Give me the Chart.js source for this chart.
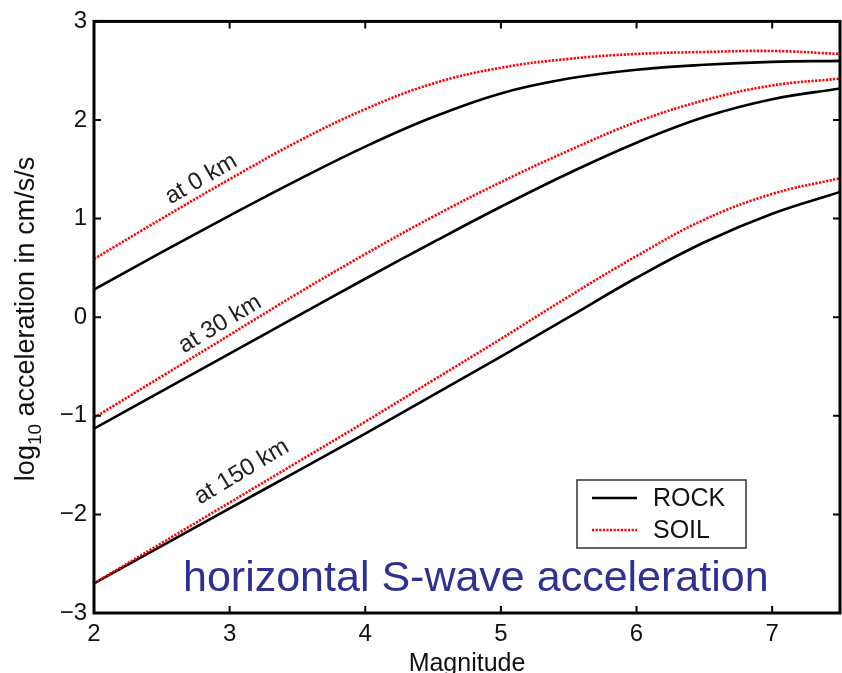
<!DOCTYPE html>
<html>
<head>
<meta charset="utf-8">
<script src="https://cdn.jsdelivr.net/npm/chart.js@4/dist/chart.umd.min.js"></script>
<style>
  body { margin: 0; background: #fff; }
  canvas { display: block; }
</style>
</head>
<body>
<canvas id="accelChart" width="842" height="673"></canvas>
<script>
// magnitudes on the x axis
const magnitudes = [2, 2.5, 3, 3.5, 4, 4.5, 5, 5.5, 6, 6.5, 7, 7.5];

// log10 acceleration (cm/s/s)
const rock0   = [0.28, 0.66, 1.03, 1.39, 1.73, 2.03, 2.27, 2.42, 2.51, 2.56, 2.59, 2.60];
const soil0   = [0.59, 1.00, 1.40, 1.78, 2.11, 2.37, 2.53, 2.62, 2.67, 2.69, 2.70, 2.67];
const rock30  = [-1.13, -0.75, -0.37, 0.01, 0.39, 0.76, 1.12, 1.46, 1.77, 2.03, 2.21, 2.32];
const soil30  = [-1.02, -0.60, -0.18, 0.24, 0.64, 1.02, 1.37, 1.69, 1.98, 2.20, 2.35, 2.42];
const rock150 = [-2.70, -2.32, -1.94, -1.56, -1.18, -0.79, -0.40, 0.00, 0.40, 0.76, 1.05, 1.27];
const soil150 = [-2.70, -2.29, -1.88, -1.47, -1.06, -0.64, -0.22, 0.21, 0.62, 0.99, 1.25, 1.41];

const xTicks = [2, 3, 4, 5, 6, 7];
const yTicks = [-3, -2, -1, 0, 1, 2, 3];

// distance labels: text, anchor (magnitude, log accel), angle in degrees
const distLabels = [
    { text: 'at 0 km', x: 2.79, y: 1.40, angle: 30 },
    { text: 'at 30 km', x: 2.93, y: -0.07, angle: 31 },
    { text: 'at 150 km', x: 3.09, y: -1.57, angle: 31 }
];

const FONT = "'Liberation Sans', Arial, Helvetica, sans-serif";
const ROCK_STYLE = { borderColor: '#000000', borderWidth: 2.6, borderDash: [] };
const SOIL_STYLE = { borderColor: '#ff0000', borderWidth: 2.6, borderDash: [2.2, 1.4] };

function pts(arr) {
    return magnitudes.map((m, i) => ({ x: m, y: arr[i] }));
}

function line(label, arr, style, order) {
    return {
        label,
        data: pts(arr),
        borderColor: style.borderColor,
        borderWidth: style.borderWidth,
        borderDash: style.borderDash,
        pointRadius: 0,
        tension: 0.4,
        fill: false,
        order
    };
}

function fmt(v) {
    return v < 0 ? '\u2212' + Math.abs(v) : String(v);
}

const decorations = {
    id: 'decorations',
    afterDatasetsDraw(chart) {
        const { ctx, chartArea: a, scales: { x, y } } = chart;
        ctx.save();

        // box
        ctx.strokeStyle = '#000';
        ctx.lineWidth = 3;
        ctx.strokeRect(a.left, a.top, a.right - a.left, a.bottom - a.top);

        // inward ticks
        ctx.lineWidth = 2;
        ctx.beginPath();
        xTicks.forEach(v => {
            const px = x.getPixelForValue(v);
            ctx.moveTo(px, a.bottom); ctx.lineTo(px, a.bottom - 7);
            ctx.moveTo(px, a.top); ctx.lineTo(px, a.top + 7);
        });
        yTicks.forEach(v => {
            const py = y.getPixelForValue(v);
            ctx.moveTo(a.left, py); ctx.lineTo(a.left + 7, py);
            ctx.moveTo(a.right, py); ctx.lineTo(a.right - 7, py);
        });
        ctx.stroke();

        // distance labels along the curves
        ctx.fillStyle = '#222';
        ctx.font = '24px ' + FONT;
        ctx.textAlign = 'center';
        ctx.textBaseline = 'middle';
        distLabels.forEach(l => {
            ctx.save();
            ctx.translate(x.getPixelForValue(l.x), y.getPixelForValue(l.y));
            ctx.rotate(-l.angle * Math.PI / 180);
            ctx.fillText(l.text, 0, 0);
            ctx.restore();
        });

        // legend
        const lx = 577, ly = 480, lw = 169, lh = 68;
        ctx.fillStyle = '#fff';
        ctx.fillRect(lx, ly, lw, lh);
        ctx.strokeStyle = '#333';
        ctx.lineWidth = 1.5;
        ctx.strokeRect(lx, ly, lw, lh);
        [[ROCK_STYLE, 'ROCK', 498], [SOIL_STYLE, 'SOIL', 530]].forEach(([s, t, yy]) => {
            ctx.strokeStyle = s.borderColor;
            ctx.lineWidth = s.borderWidth;
            ctx.setLineDash(s.borderDash);
            ctx.beginPath();
            ctx.moveTo(592, yy); ctx.lineTo(637, yy);
            ctx.stroke();
            ctx.setLineDash([]);
            ctx.fillStyle = '#111';
            ctx.font = '25px ' + FONT;
            ctx.textAlign = 'left';
            ctx.textBaseline = 'middle';
            ctx.fillText(t, 653, yy + 1);
        });

        // blue caption
        ctx.fillStyle = '#2e3192';
        ctx.font = '43px ' + FONT;
        ctx.textAlign = 'left';
        ctx.textBaseline = 'alphabetic';
        ctx.fillText('horizontal S-wave acceleration', 183, 591);

        // x title
        ctx.fillStyle = '#111';
        ctx.font = '25px ' + FONT;
        ctx.textAlign = 'center';
        ctx.fillText('Magnitude', (a.left + a.right) / 2, 671);

        // y title with subscript
        ctx.save();
        ctx.translate(34, 319);
        ctx.rotate(-Math.PI / 2);
        const big = '27px ' + FONT, small = '19px ' + FONT;
        ctx.font = big;
        const w1 = ctx.measureText('log').width;
        const w3 = ctx.measureText(' acceleration in cm/s/s').width;
        ctx.font = small;
        const w2 = ctx.measureText('10').width;
        let sx = -(w1 + w2 + w3) / 2;
        ctx.textAlign = 'left';
        ctx.font = big;
        ctx.fillText('log', sx, 0);
        sx += w1;
        ctx.font = small;
        ctx.fillText('10', sx, 7);
        sx += w2;
        ctx.font = big;
        ctx.fillText(' acceleration in cm/s/s', sx, 0);
        ctx.restore();

        ctx.restore();
    }
};

new Chart(document.getElementById('accelChart'), {
    type: 'line',
    data: {
        datasets: [
            line('ROCK 0 km', rock0, ROCK_STYLE, 1),
            line('ROCK 30 km', rock30, ROCK_STYLE, 1),
            line('ROCK 150 km', rock150, ROCK_STYLE, 1),
            line('SOIL 0 km', soil0, SOIL_STYLE, 0),
            line('SOIL 30 km', soil30, SOIL_STYLE, 0),
            line('SOIL 150 km', soil150, SOIL_STYLE, 0)
        ]
    },
    options: {
        responsive: false,
        animation: false,
        layout: { padding: { top: 20, right: 2, left: 0, bottom: 0 } },
        plugins: { legend: { display: false }, tooltip: { enabled: false } },
        scales: {
            x: {
                type: 'linear',
                min: 2,
                max: 7.5,
                grid: { display: false, drawTicks: false },
                border: { display: false },
                ticks: {
                    stepSize: 1,
                    includeBounds: false,
                    padding: 7,
                    color: '#111',
                    font: { family: FONT, size: 24 },
                    maxRotation: 0
                },
                afterFit(scale) { scale.height = 60; }
            },
            y: {
                min: -3,
                max: 3,
                grid: { display: false, drawTicks: false },
                border: { display: false },
                ticks: {
                    stepSize: 1,
                    padding: 7,
                    color: '#111',
                    font: { family: FONT, size: 24 },
                    callback: v => fmt(v)
                },
                afterFit(scale) { scale.width = 94; }
            }
        }
    },
    plugins: [decorations]
});
</script>
</body>
</html>
